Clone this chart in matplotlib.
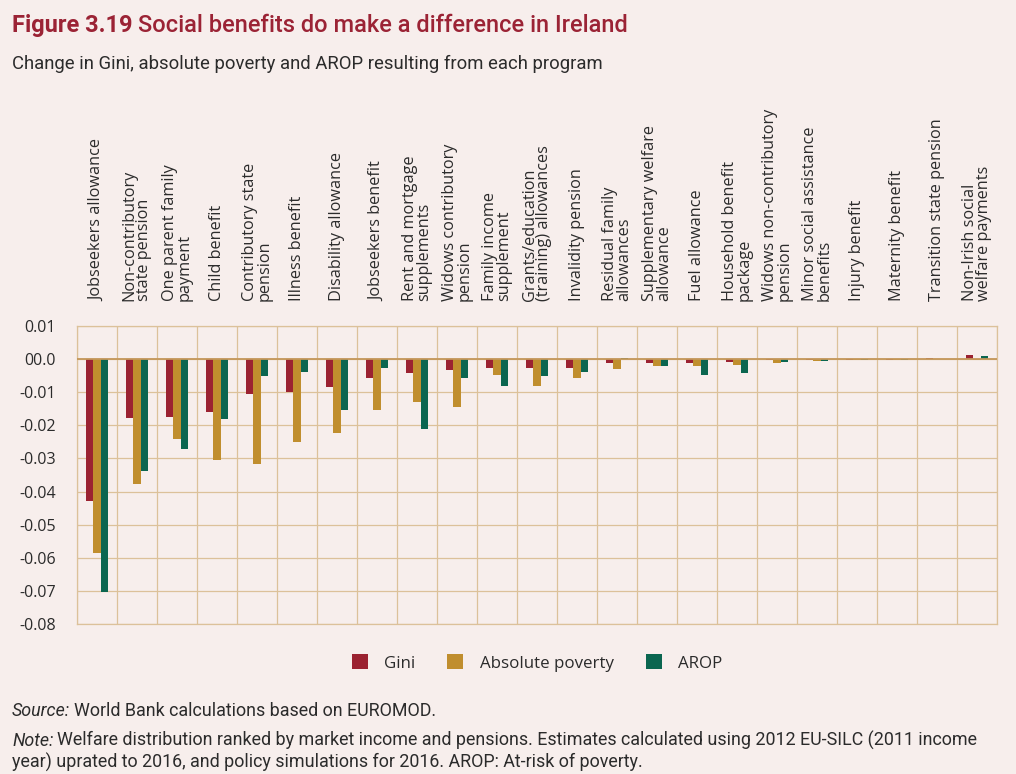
import matplotlib
matplotlib.use("Agg")
import matplotlib.pyplot as plt
import numpy as np

categories = [
    "Jobseekers allowance",
    "Non-contributory\nstate pension",
    "One parent family\npayment",
    "Child benefit",
    "Contributory state\npension",
    "Illness benefit",
    "Disability allowance",
    "Jobseekers benefit",
    "Rent and mortgage\nsupplements",
    "Widows contributory\npension",
    "Family income\nsupplement",
    "Grants/education\n(training) allowances",
    "Invalidity pension",
    "Residual family\nallowances",
    "Supplementary welfare\nallowance",
    "Fuel allowance",
    "Household benefit\npackage",
    "Widows non-contributory\npension",
    "Minor social assistance\nbenefits",
    "Injury benefit",
    "Maternity benefit",
    "Transition state pension",
    "Non-Irish social\nwelfare payments",
]
gini = [-0.0430, -0.0178, -0.0174, -0.0161, -0.0106, -0.0098, -0.0085, -0.0056,
        -0.0042, -0.0034, -0.0026, -0.0026, -0.0026, -0.0013, -0.0012, -0.0013,
        -0.0010, -0.0003, -0.0003, -0.0002, -0.0002, 0.0002, 0.0011]
absolute_poverty = [-0.0585, -0.0376, -0.0241, -0.0304, -0.0317, -0.0250, -0.0224, -0.0153,
                    -0.0130, -0.0145, -0.0047, -0.0080, -0.0056, -0.0031, -0.0022, -0.0022,
                    -0.0017, -0.0013, -0.0007, -0.0003, -0.0003, 0.0000, -0.0003]
arop = [-0.0703, -0.0338, -0.0271, -0.0182, -0.0051, -0.0039, -0.0153, -0.0026,
        -0.0211, -0.0056, -0.0082, -0.0051, -0.0038, 0.0002, -0.0022, -0.0048,
        -0.0043, -0.0009, -0.0007, -0.0003, -0.0003, 0.0000, 0.0010]
yticks = [0.01, 0.0, -0.01, -0.02, -0.03, -0.04, -0.05, -0.06, -0.07, -0.08]
ytick_labels = ["0.01", "00.0", "-0.01", "-0.02", "-0.03", "-0.04", "-0.05", "-0.06", "-0.07", "-0.08"]
series_names = ["Gini", "Absolute poverty", "AROP"]

BG = "#f7eeec"
C_GINI = "#9b2231"
C_ABS = "#c08e2e"
C_AROP = "#0b6650"
GRID = "#dcc19a"
TXT = "#2b2b2b"
TITLE_C = "#9b2335"
CONDENSED = ['Roboto', 'DejaVu Sans']

plt.rcParams['font.family'] = ['Open Sans', 'DejaVu Sans']

fig = plt.figure(figsize=(10.16, 7.74), dpi=100, facecolor=BG)
ax = fig.add_axes([77/1016, 1-624/774, (997-77)/1016, (624-326)/774])
ax.set_facecolor(BG)

x = np.arange(len(categories))
w = 0.19
ax.bar(x - w, gini, w, color=C_GINI, label=series_names[0], zorder=3)
ax.bar(x, absolute_poverty, w, color=C_ABS, label=series_names[1], zorder=3)
ax.bar(x + w, arop, w, color=C_AROP, label=series_names[2], zorder=3)

ax.set_xlim(-0.5, len(categories) - 0.5)
ax.set_ylim(-0.08, 0.01)
ax.set_yticks(yticks)
ax.set_yticklabels(ytick_labels, fontsize=11.5, color=TXT)
ax.tick_params(axis='y', length=0, pad=15)

ax.xaxis.tick_top()
ax.set_xticks(x)
ax.set_xticklabels(categories, rotation=90, fontsize=11.7, color=TXT,
                   va='bottom', ha='center', linespacing=0.9)
for lab in ax.get_xticklabels():
    lab.set_multialignment('left')
ax.tick_params(axis='x', length=0, pad=18)
ax.set_xticks(np.arange(-0.5, len(categories), 1.0), minor=True)
ax.tick_params(axis='x', which='minor', length=0)

ax.grid(True, which='minor', axis='x', color=GRID, linewidth=0.9, zorder=0)
ax.grid(True, which='major', axis='y', color=GRID, linewidth=0.9, zorder=0)
ax.grid(False, which='major', axis='x')
for s in ax.spines.values():
    s.set_color(GRID)
    s.set_linewidth(0.9)
ax.axhline(0, color="#c4975a", linewidth=1.3, zorder=4)

# legend
leg = ax.legend(loc='center', bbox_to_anchor=(0.5, -39/298), ncol=3, frameon=False,
                fontsize=12.2, handlelength=0.95, handleheight=0.95, columnspacing=1.9,
                handletextpad=0.95)
for t in leg.get_texts():
    t.set_color(TXT)

# title
fig.canvas.draw()
renderer = fig.canvas.get_renderer()
t1 = fig.text(12/1016, 1-32/774, "Figure 3.19", fontsize=17, fontweight='bold',
              color=TITLE_C, family=CONDENSED, va='baseline')
bb = t1.get_window_extent(renderer)
fig.text((bb.x1 + 5)/1016, 1-32/774, "Social benefits do make a difference in Ireland",
         fontsize=17, fontweight='medium', color=TITLE_C, family=CONDENSED,
         va='baseline')
fig.text(12/1016, 1-69/774, "Change in Gini, absolute poverty and AROP resulting from each program",
         fontsize=13.3, color=TXT, family=CONDENSED, va='baseline')

# footer
FS = 12.9
s1 = fig.text(12/1016, 1-716/774, "Source:", fontsize=FS, style='italic', color=TXT,
              family=CONDENSED, va='baseline')
bb = s1.get_window_extent(renderer)
fig.text((bb.x1 + 4)/1016, 1-716/774, "World Bank calculations based on EUROMOD.",
         fontsize=FS, color=TXT, family=CONDENSED, va='baseline')
n1 = fig.text(12/1016, 1-746/774, "Note:", fontsize=FS, style='italic', color=TXT,
              family=CONDENSED, va='baseline')
bb = n1.get_window_extent(renderer)
fig.text((bb.x1 + 4)/1016, 1-746/774,
         "Welfare distribution ranked by market income and pensions. Estimates calculated using 2012 EU-SILC (2011 income",
         fontsize=FS, color=TXT, family=CONDENSED, va='baseline')
fig.text(12/1016, 1-768/774,
         "year) uprated to 2016, and policy simulations for 2016. AROP: At-risk of poverty.",
         fontsize=FS, color=TXT, family=CONDENSED, va='baseline')

fig.savefig("out.png", dpi=100, facecolor=BG)
